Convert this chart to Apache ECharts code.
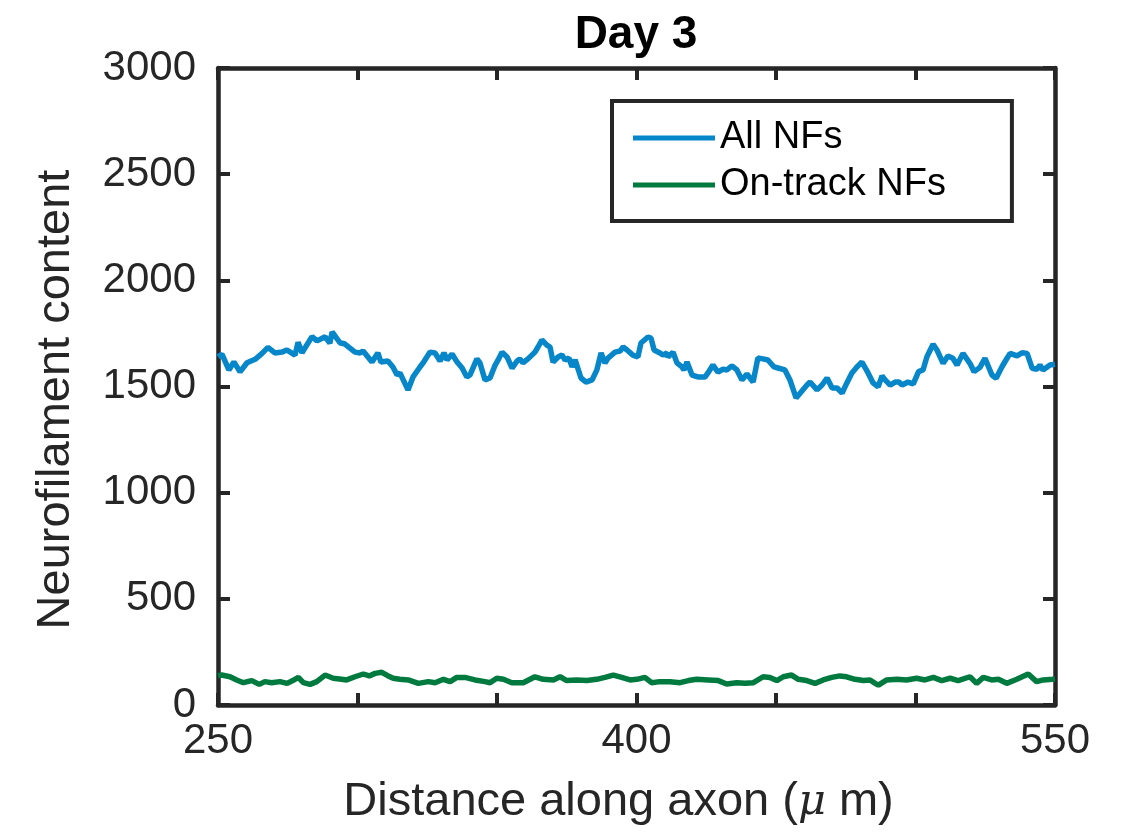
<!DOCTYPE html>
<html>
<head>
<meta charset="utf-8">
<script src="https://cdn.jsdelivr.net/npm/echarts@6/dist/echarts.min.js"></script>
<style>
  html, body { margin: 0; padding: 0; background: #fff; }
  #chart { width: 1133px; height: 840px; }
</style>
</head>
<body>
<div id="chart"></div>
<script>
// distance along axon (um) and content
const allX = [250.0, 251.4, 253.9, 255.7, 257.9, 260.4, 263.3, 265.8, 267.9, 270.4, 272.9, 274.7, 277.6, 278.7, 280.1,
  283.7, 285.5, 288.4, 290.1, 290.9, 293.7, 295.5, 299.1, 300.9, 302.0, 305.2, 307.3, 308.4, 310.9, 312.7,
  314.2, 315.2, 318.1, 319.9, 322.4, 323.5, 326.0, 327.8, 329.6, 331.0, 332.1, 333.9, 335.7, 337.5, 339.2,
  340.3, 342.8, 343.9, 345.7, 347.5, 349.3, 350.4, 351.8, 353.6, 355.4, 357.2, 358.2, 359.3, 361.1, 363.6,
  364.7, 366.1, 367.9, 369.0, 370.1, 371.9, 373.3, 374.4, 375.8, 376.9, 378.0, 380.1, 381.9, 384.1, 385.8,
  387.3, 388.7, 389.8, 392.3, 394.1, 395.2, 396.6, 398.7, 400.5, 401.6, 404.1, 405.2, 406.3, 408.4, 409.5,
  410.9, 411.3, 413.1, 414.5, 416.3, 417.0, 418.1, 419.9, 422.0, 424.6, 425.6, 427.4, 429.2, 431.0, 432.4,
  434.2, 436.0, 437.8, 439.6, 441.8, 443.5, 445.3, 447.1, 449.3, 450.7, 453.2, 455.0, 457.2, 459.0, 461.1,
  462.2, 464.7, 466.5, 468.3, 470.1, 471.9, 473.7, 475.4, 477.2, 479.0, 480.8, 483.0, 484.8, 486.6, 488.0,
  489.1, 490.9, 492.7, 494.1, 495.2, 497.3, 499.2, 501.1, 502.7, 504.1, 506.3, 507.7, 509.9, 511.6, 513.4,
  514.9, 517.0, 519.5, 521.0, 523.1, 524.9, 527.4, 528.9, 531.0, 532.8, 533.9, 536.4, 538.2, 540.0, 541.8,
  543.5, 544.6, 545.7, 548.2, 550.0];
const allY = [1640, 1652, 1578, 1616, 1569, 1612, 1628, 1656, 1684, 1658, 1662, 1672, 1648, 1708, 1659,
  1735, 1715, 1734, 1704, 1757, 1706, 1700, 1662, 1658, 1667, 1615, 1658, 1615, 1620, 1592,
  1554, 1564, 1484, 1545, 1592, 1611, 1662, 1658, 1620, 1658, 1625, 1653, 1615, 1587, 1545,
  1554, 1630, 1611, 1531, 1540, 1600, 1625, 1662, 1639, 1587, 1620, 1630, 1611, 1630, 1662,
  1686, 1719, 1695, 1686, 1615, 1639, 1648, 1625, 1634, 1592, 1625, 1540, 1521, 1531, 1578,
  1658, 1611, 1634, 1662, 1667, 1686, 1672, 1648, 1639, 1705, 1733, 1728, 1672, 1658, 1648,
  1658, 1639, 1662, 1611, 1592, 1578, 1615, 1554, 1545, 1545, 1564, 1601, 1568, 1582, 1578,
  1597, 1578, 1531, 1559, 1521, 1634, 1630, 1625, 1592, 1587, 1578, 1531, 1446, 1474, 1507,
  1521, 1484, 1507, 1540, 1493, 1493, 1469, 1517, 1564, 1592, 1615, 1564, 1517, 1498, 1550,
  1531, 1507, 1521, 1521, 1507, 1521, 1512, 1570, 1578, 1640, 1699, 1672, 1609, 1644, 1633,
  1601, 1656, 1609, 1570, 1590, 1633, 1554, 1539, 1593, 1633, 1656, 1644, 1659, 1656, 1586,
  1581, 1601, 1578, 1601, 1605];

const onX = [250.0, 251.3, 254.3, 256.7, 259.1, 262.1, 264.8, 266.8, 269.2, 272.2, 274.8, 276.8, 278.8, 280.6, 283.0,
  285.4, 288.4, 291.3, 294.3, 296.1, 299.1, 302.1, 304.2, 306.3, 308.7, 311.0, 312.8, 315.2, 318.2, 321.8,
  325.4, 327.8, 330.8, 333.2, 335.6, 338.5, 342.1, 345.7, 347.5, 349.9, 352.3, 355.3, 359.4, 363.6, 366.6,
  370.2, 372.6, 375.0, 378.6, 382.2, 385.7, 388.7, 391.7, 394.7, 397.7, 400.1, 403.0, 405.4, 408.4, 412.0,
  415.6, 418.6, 421.6, 425.7, 429.3, 432.3, 435.9, 438.9, 441.9, 445.4, 447.8, 450.3, 452.6, 455.6, 458.0,
  461.0, 464.0, 466.9, 470.0, 472.9, 475.3, 478.3, 481.3, 483.7, 485.5, 486.7, 489.7, 493.3, 496.8, 500.4,
  503.4, 506.4, 509.4, 512.4, 515.3, 519.5, 521.9, 524.3, 527.3, 529.7, 532.7, 536.3, 540.4, 543.4, 545.8,
  549.1, 550.0];
const onY = [138, 141, 133, 118, 105, 115, 97, 110, 105, 110, 102, 115, 130, 105, 97,
  110, 141, 126, 121, 118, 133, 146, 137, 149, 154, 137, 126, 121, 118, 102,
  110, 105, 121, 110, 130, 130, 118, 110, 105, 126, 121, 105, 105, 133, 121,
  118, 133, 115, 118, 115, 121, 130, 141, 130, 118, 121, 130, 105, 110, 110,
  105, 115, 121, 118, 115, 99, 105, 102, 105, 133, 130, 115, 133, 141, 121,
  115, 102, 118, 130, 137, 133, 121, 115, 118, 102, 94, 118, 121, 118, 126,
  118, 130, 115, 126, 115, 133, 102, 130, 118, 121, 102, 121, 146, 110, 118,
  121, 122];

const xLabels = [250, 400, 550];
const yTicks = [0, 500, 1000, 1500, 2000, 2500, 3000];

const frame = '#262626';
const font = '"Liberation Sans", Arial, Helvetica, sans-serif';

const chart = echarts.init(document.getElementById('chart'));

const tickStyle = { show: true, inside: true, length: 12, lineStyle: { color: frame, width: 4 } };
const lineStyle = { show: true, onZero: false, lineStyle: { color: frame, width: 4.5 } };

chart.setOption({
  animation: false,
  backgroundColor: '#fff',
  title: {
    text: 'Day 3',
    left: 631, top: 7, textAlign: 'center',
    textStyle: { fontFamily: font, fontSize: 46, fontWeight: 'bold', color: '#000' }
  },
  legend: {
    orient: 'vertical',
    left: 612, top: 101,
    padding: [17, 66, 16, 21],
    borderColor: frame, borderWidth: 4,
    backgroundColor: '#fff',
    itemWidth: 82, itemHeight: 5, itemGap: 7, icon: 'rect',
    textStyle: { fontFamily: font, fontSize: 38, color: '#000', lineHeight: 40 },
    data: ['All NFs', 'On-track NFs']
  },
  grid: { left: 218, right: 78, top: 68, bottom: 135 },
  xAxis: [{
    type: 'value', min: 250, max: 550, interval: 50,
    axisLine: lineStyle, axisTick: tickStyle, splitLine: { show: false },
    axisLabel: {
      margin: 15, fontFamily: font, fontSize: 42, color: frame,
      formatter: v => xLabels.includes(v) ? String(v) : ''
    },
    name: 'Distance along axon ({mu|μ} m)',
    nameLocation: 'middle', nameGap: 74,
    nameTextStyle: {
      fontFamily: font, fontSize: 47, color: frame,
      padding: [0, 36, 0, 0],
      rich: { mu: { fontFamily: '"DejaVu Serif", serif', fontStyle: 'italic', fontSize: 43, color: frame } }
    }
  }, {
    type: 'value', position: 'top', min: 250, max: 550, interval: 50,
    axisLine: lineStyle, axisTick: tickStyle, splitLine: { show: false },
    axisLabel: { show: false }
  }],
  yAxis: [{
    type: 'value', min: yTicks[0], max: yTicks[yTicks.length - 1], interval: 500,
    axisLine: lineStyle, axisTick: tickStyle, splitLine: { show: false },
    axisLabel: { margin: 22, fontFamily: font, fontSize: 42, color: frame, formatter: v => String(v) },
    name: 'Neurofilament content',
    nameLocation: 'middle', nameGap: 138,
    nameTextStyle: { fontFamily: font, fontSize: 47, color: frame, padding: [0, 26, 0, 0] }
  }, {
    type: 'value', position: 'right', min: 0, max: 3000, interval: 500,
    axisLine: lineStyle, axisTick: tickStyle, splitLine: { show: false },
    axisLabel: { show: false }
  }],
  series: [{
    name: 'All NFs', type: 'line', xAxisIndex: 0, yAxisIndex: 0,
    showSymbol: false, symbol: 'none',
    itemStyle: { color: '#0787c9' },
    lineStyle: { color: '#0787c9', width: 5.5 },
    data: allX.map((x, i) => [x, allY[i]])
  }, {
    name: 'On-track NFs', type: 'line', xAxisIndex: 0, yAxisIndex: 0,
    showSymbol: false, symbol: 'none',
    itemStyle: { color: '#007a3e' },
    lineStyle: { color: '#007a3e', width: 5.5 },
    data: onX.map((x, i) => [x, onY[i]])
  }]
});
</script>
</body>
</html>
